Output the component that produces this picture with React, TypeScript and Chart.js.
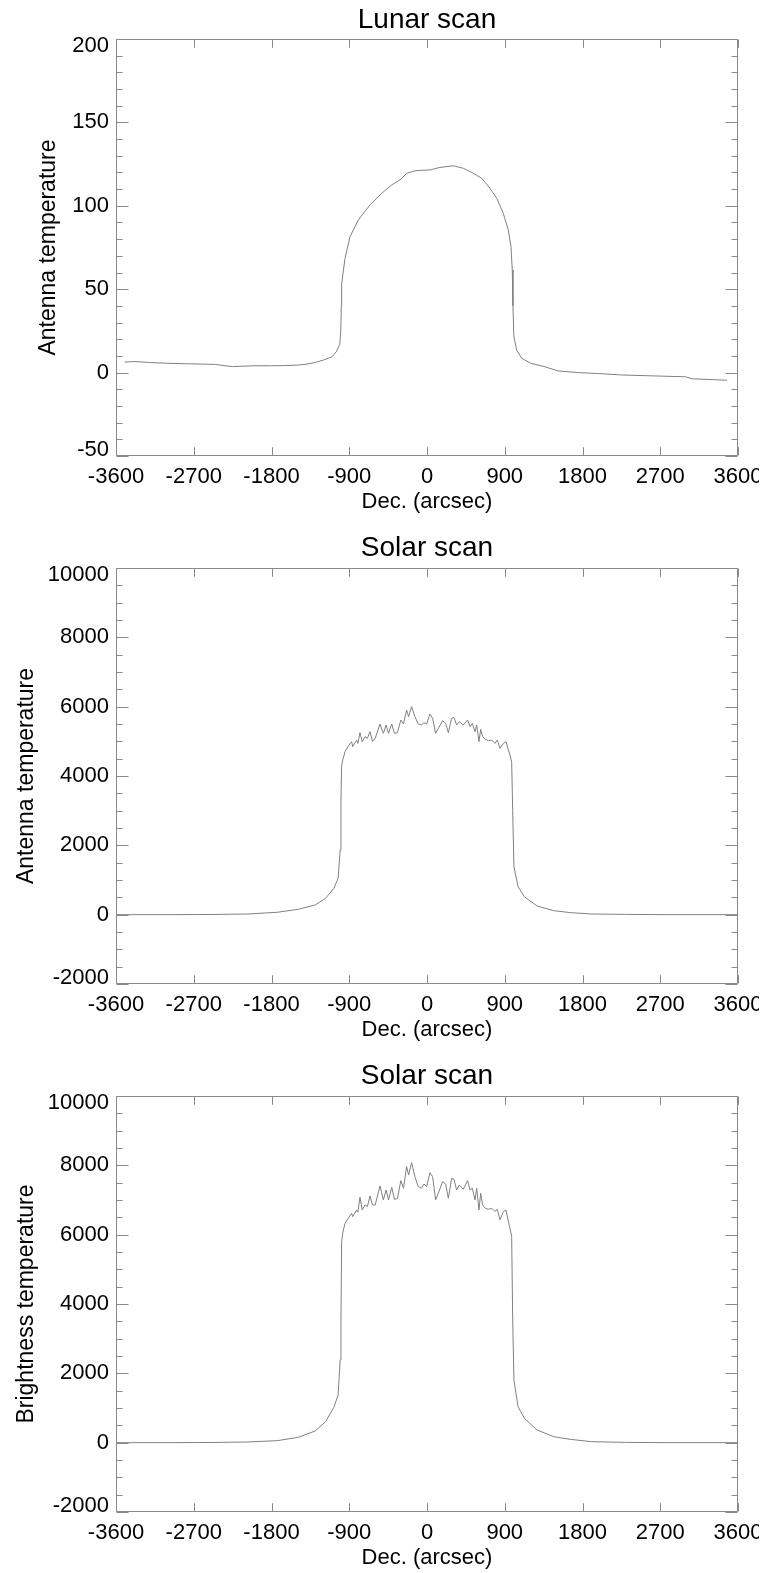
import { useEffect, useRef } from 'react';
import { Chart, registerables } from 'chart.js';

Chart.register(...registerables);

// ---------- data ----------
const decTicks = [-3600, -2700, -1800, -900, 0, 900, 1800, 2700, 3600];
const lunarYTicks = [-50, 0, 50, 100, 150, 200];
const solarYTicks = [-2000, 0, 2000, 4000, 6000, 8000, 10000];

const lunarDec = [
  -3500, -3400, -3300, -3200, -3000, -2800, -2600, -2450, -2350, -2250, -2150, -2000, -1800, -1650,
  -1500, -1400, -1300, -1200, -1100, -1050, -1010, -998, -992, -988, -976, -949, -891, -795, -660,
  -524, -409, -313, -235, -139, -50, 35, 150, 304, 420, 536, 633, 729, 807, 883, 941, 972, 987, 995,
  1005, 1038, 1096, 1200, 1366, 1516, 1757, 2000, 2242, 2628, 2992, 3065, 3300, 3473,
];
const lunarTemp = [
  6.3, 6.6, 6.4, 6.0, 5.6, 5.3, 5.1, 4.9, 4.2, 3.6, 3.8, 4.1, 4.1, 4.2,
  4.5, 5.0, 6.0, 7.5, 9.5, 12.5, 17, 25, 40, 53, 58, 68.5, 81.5, 91.5, 100.5,
  107.5, 112.5, 115.5, 119.5, 121, 121.3, 121.5, 123, 124, 122.5, 119.5, 116.5, 110.5, 104.5, 95.5, 85.5, 75.5, 61.5, 40,
  22, 13.5, 8.6, 5.6, 3.5, 1.0, 0.0, -0.6, -1.4, -2.0, -2.5, -3.7, -4.2, -4.6,
];

const solarDec = [
  -3600, -3000, -2500, -2071, -1732, -1489, -1295, -1174, -1078, -1029, -1005, -996, -988, -976,
  -949, -911, -872, -860, -814, -800, -776, -750, -718, -690, -660, -630, -600, -544, -505, -473,
  -446, -408, -377, -342, -303, -272, -236, -213, -178, -140, -101, -63, -35, -4, 34, 65, 100, 131,
  181, 216, 247, 285, 312, 343, 374, 420, 470, 498, 525, 556, 575, 602, 621, 644, 675, 710, 749,
  787, 814, 845, 884, 915, 942, 961, 980, 992, 1006, 1054, 1127, 1273, 1467, 1660, 1903, 2300,
  2800, 3600,
];
const solarAntenna = [
  0, 0, 5, 20, 69, 155, 280, 472, 760, 1050, 1867, 3300, 4300, 4460,
  4701, 4865, 4990, 4850, 5038, 4940, 5249, 4990, 5135, 5087, 5279, 5000, 5087, 5500, 5231, 5471,
  5231, 5500, 5231, 5250, 5615, 5500, 5904, 5712, 6000, 5712, 5500, 5471, 5540, 5500, 5788, 5664, 5231, 5375,
  5596, 5519, 5250, 5664, 5692, 5471, 5567, 5471, 5615, 5423, 5519, 5279, 5471, 4990, 5346, 5135, 5058, 5019, 5038,
  4942, 5038, 4798, 4942, 4990, 4750, 4605, 4400, 3000, 1385, 808, 519, 251, 115, 58, 20, 8,
  0, 0,
];
const solarBrightness = [
  0, 0, 5, 20, 58, 155, 337, 606, 1020, 1375, 2385, 3540, 5800, 6040,
  6329, 6473, 6617, 6521, 6713, 6650, 7079, 6713, 6860, 6810, 7117, 6856, 6856, 7406, 7002, 7290,
  7002, 7367, 7021, 7040, 7559, 7337, 7963, 7722, 8078, 7674, 7386, 7337, 7462, 7386, 7790, 7674, 7002, 7194,
  7530, 7462, 7049, 7626, 7597, 7290, 7434, 7309, 7559, 7290, 7337, 7002, 7337, 6713, 7194, 6856, 6760, 6731, 6760,
  6665, 6731, 6425, 6665, 6713, 6377, 6185, 5950, 3540, 1808, 1039, 703, 366, 173, 96, 29, 8,
  0, 0,
];

// ---------- styling ----------
const FONT = '"Liberation Sans", Arial, Helvetica, sans-serif';
const LINE = '#808080';
const AXIS = '#8a8a8a';
const PANEL_H = 528;

const inwardTicks = {
  id: 'inwardTicks',
  beforeDraw(chart: any) {
    // keep the end labels of the y axis inside the axis range
    const ys = chart.scales.y;
    const items = ys.getLabelItems();
    if (items && items.length > 1) {
      items[0].options.translation[1] -= 6.5;
      items[items.length - 1].options.translation[1] += 7;
    }
  },
  afterDraw(chart: any, _args: any, opts: any) {
    const { ctx, chartArea } = chart;
    const { left, right, top, bottom } = chartArea;
    const xs = chart.scales.x;
    const ys = chart.scales.y;
    ctx.save();
    ctx.strokeStyle = AXIS;
    ctx.lineWidth = 1;
    const L = Math.round(left) + 0.5;
    const R = Math.round(right) - 0.5;
    const T = Math.round(top) + 0.5;
    const B = Math.round(bottom) - 0.5;
    ctx.beginPath();
    ctx.rect(L, T, R - L, B - T);
    ctx.stroke();
    ctx.beginPath();
    const xMaj = 8.3;
    for (const t of xs.ticks) {
      const p = Math.round(xs.getPixelForValue(t.value)) + 0.5;
      ctx.moveTo(p, B);
      ctx.lineTo(p, B - xMaj);
      ctx.moveTo(p, T);
      ctx.lineTo(p, T + xMaj);
    }
    const yMaj = 12;
    const yMin = 6;
    const yt = ys.ticks.map((t: any) => t.value);
    const sub = opts.sub || 5;
    for (let i = 0; i < yt.length; i++) {
      const p = Math.round(ys.getPixelForValue(yt[i])) + 0.5;
      ctx.moveTo(L, p);
      ctx.lineTo(L + yMaj, p);
      ctx.moveTo(R, p);
      ctx.lineTo(R - yMaj, p);
      if (i < yt.length - 1) {
        const step = (yt[i + 1] - yt[i]) / sub;
        for (let k = 1; k < sub; k++) {
          const q = Math.round(ys.getPixelForValue(yt[i] + k * step)) + 0.5;
          ctx.moveTo(L, q);
          ctx.lineTo(L + yMin, q);
          ctx.moveTo(R, q);
          ctx.lineTo(R - yMin, q);
        }
      }
    }
    ctx.stroke();
    ctx.restore();
  },
};

type PanelProps = {
  title: string;
  yLabel: string;
  xs: number[];
  ys: number[];
  yTicks: number[];
  sub: number;
  yTitlePad: number;
  titlePad: { top: number; bottom: number };
};

function Panel(p: PanelProps) {
  const ref = useRef<HTMLCanvasElement>(null);
  useEffect(() => {
    if (!ref.current) return;
    const tickFont = { family: FONT, size: 22 };
    const chart = new Chart(ref.current, {
      type: 'line',
      data: {
        datasets: [
          {
            data: p.xs.map((x, i) => ({ x, y: p.ys[i] })),
            borderColor: LINE,
            borderWidth: 1,
            pointRadius: 0,
            tension: 0,
            fill: false,
          },
        ],
      },
      plugins: [inwardTicks],
      options: {
        animation: false,
        responsive: false,
        devicePixelRatio: 1,
        layout: { padding: { left: 0, right: 28, top: 0, bottom: 0 } },
        plugins: {
          legend: { display: false },
          tooltip: { enabled: false },
          title: {
            display: true,
            fullSize: false,
            text: p.title,
            color: '#000',
            font: { family: FONT, size: 28, weight: 'normal' },
            padding: p.titlePad,
          },
          inwardTicks: { sub: p.sub },
        } as any,
        scales: {
          x: {
            type: 'linear',
            min: decTicks[0],
            max: decTicks[decTicks.length - 1],
            afterBuildTicks: (s: any) => {
              s.ticks = decTicks.map((v) => ({ value: v }));
            },
            afterFit: (s: any) => {
              s.height = 72;
              s.paddingLeft = 0;
              s.paddingRight = 0;
            },
            grid: { display: false, drawTicks: false },
            border: { display: false },
            ticks: {
              color: '#000',
              font: tickFont,
              padding: 8,
              maxRotation: 0,
              autoSkip: false,
              callback: (v: any) => String(v),
            },
            title: {
              display: true,
              text: 'Dec. (arcsec)',
              color: '#000',
              font: { family: FONT, size: 22 },
              padding: { top: 0, bottom: 13 },
            },
          },
          y: {
            type: 'linear',
            min: p.yTicks[0],
            max: p.yTicks[p.yTicks.length - 1],
            afterBuildTicks: (s: any) => {
              s.ticks = p.yTicks.map((v) => ({ value: v }));
            },
            afterFit: (s: any) => {
              s.width = 116;
              s.paddingTop = 0;
              s.paddingBottom = 0;
            },
            grid: { display: false, drawTicks: false },
            border: { display: false },
            ticks: {
              color: '#000',
              font: tickFont,
              padding: 7,
              autoSkip: false,
              callback: (v: any) => String(v),
            },
            title: {
              display: true,
              text: p.yLabel,
              color: '#000',
              font: { family: FONT, size: 23 },
              padding: { top: p.yTitlePad, bottom: 0 },
            },
          },
        },
      } as any,
    });
    return () => chart.destroy();
  }, []);
  return <canvas ref={ref} width={766} height={PANEL_H} style={{ display: 'block', width: 766, height: PANEL_H }} />;
}

export default function App() {
  return (
    <div
      style={{
        position: 'absolute',
        left: 0,
        top: 0,
        width: 759,
        height: 1573,
        overflow: 'hidden',
        background: '#fff',
      }}
    >
      <div style={{ position: 'absolute', left: 0, top: 0 }}>
        <Panel
          title="Lunar scan"
          yLabel="Antenna temperature"
          xs={lunarDec}
          ys={lunarTemp}
          yTicks={lunarYTicks}
          sub={5}
          yTitlePad={35}
          titlePad={{ top: 3, bottom: 2.4 }}
        />
      </div>
      <div style={{ position: 'absolute', left: 0, top: PANEL_H }}>
        <Panel
          title="Solar scan"
          yLabel="Antenna temperature"
          xs={solarDec}
          ys={solarAntenna}
          yTicks={solarYTicks}
          sub={4}
          yTitlePad={13}
          titlePad={{ top: 3, bottom: 3.4 }}
        />
      </div>
      <div style={{ position: 'absolute', left: 0, top: PANEL_H * 2 }}>
        <Panel
          title="Solar scan"
          yLabel="Brightness temperature"
          xs={solarDec}
          ys={solarBrightness}
          yTicks={solarYTicks}
          sub={4}
          yTitlePad={13}
          titlePad={{ top: 3, bottom: 3.4 }}
        />
      </div>
    </div>
  );
}
